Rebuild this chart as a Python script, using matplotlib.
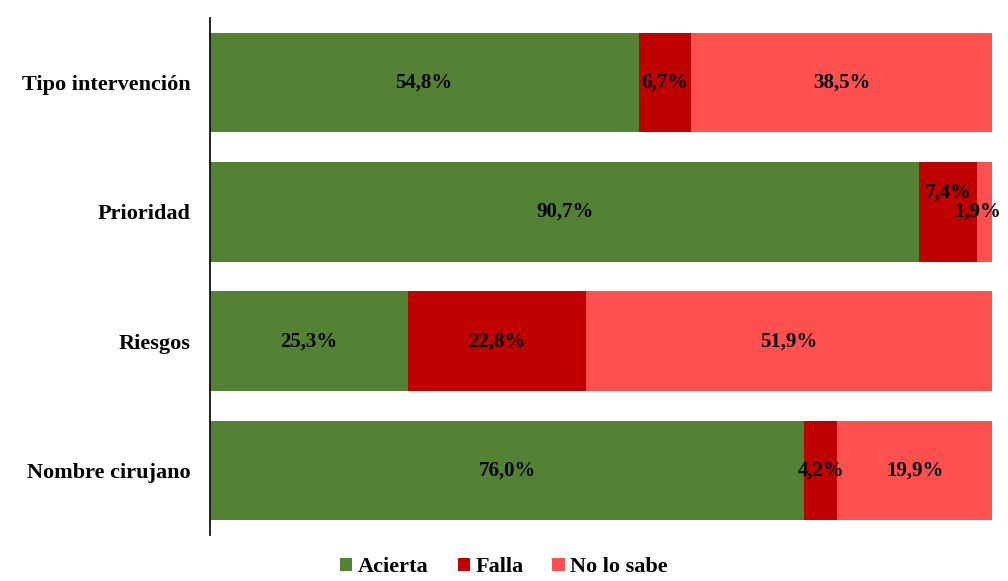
import matplotlib.pyplot as plt
import numpy as np

plt.rcParams['font.family'] = 'Liberation Serif'
plt.rcParams['font.weight'] = 'bold'

categorias = ['Tipo intervención', 'Prioridad', 'Riesgos', 'Nombre cirujano']
acierta = [54.8, 90.7, 25.3, 76.0]
falla = [6.7, 7.4, 22.8, 4.2]
no_sabe = [38.5, 1.9, 51.9, 19.9]

series = [('Acierta', acierta, '#548235'),
          ('Falla', falla, '#C00000'),
          ('No lo sabe', no_sabe, '#FF5050')]

fig = plt.figure(figsize=(10.08, 5.81), dpi=100)
ax = fig.add_axes([0.2083, 0.0792, 0.7758, 0.8898])

y = np.arange(len(categorias))
izq = np.zeros(len(categorias))
for nombre, vals, color in series:
    vals = np.array(vals)
    ax.barh(y, vals, left=izq, height=0.77, color=color, label=nombre)
    for i, v in enumerate(vals):
        cx = izq[i] + v / 2
        cy = y[i]
        # etiquetas pequeñas desplazadas para que no se pisen
        if nombre == 'Falla' and categorias[i] == 'Prioridad':
            cy -= 0.15
        if nombre == 'No lo sabe' and categorias[i] == 'Prioridad':
            cx -= 0.8
        texto = f'{v:.1f}%'.replace('.', ',')
        ax.text(cx, cy, texto, ha='center', va='center', fontsize=15,
                fontweight='bold', color='black')
    izq = izq + vals

ax.set_xlim(0, 100)
ax.set_ylim(len(categorias) - 0.5, -0.5)
ax.set_yticks(y)
ax.set_yticklabels(categorias, fontsize=16, fontweight='bold')
ax.tick_params(axis='y', length=0, pad=14)
ax.set_xticks([])
for s in ['top', 'right', 'bottom']:
    ax.spines[s].set_visible(False)
ax.spines['left'].set_color('black')
ax.spines['left'].set_linewidth(1.2)

fig.legend(loc='lower center', bbox_to_anchor=(0.5, -0.028), ncol=3, frameon=False,
           prop={'size': 16, 'weight': 'bold'}, handlelength=0.55, handleheight=0.55,
           handletextpad=0.25, columnspacing=1.3)

fig.savefig('out.png', dpi=100)
